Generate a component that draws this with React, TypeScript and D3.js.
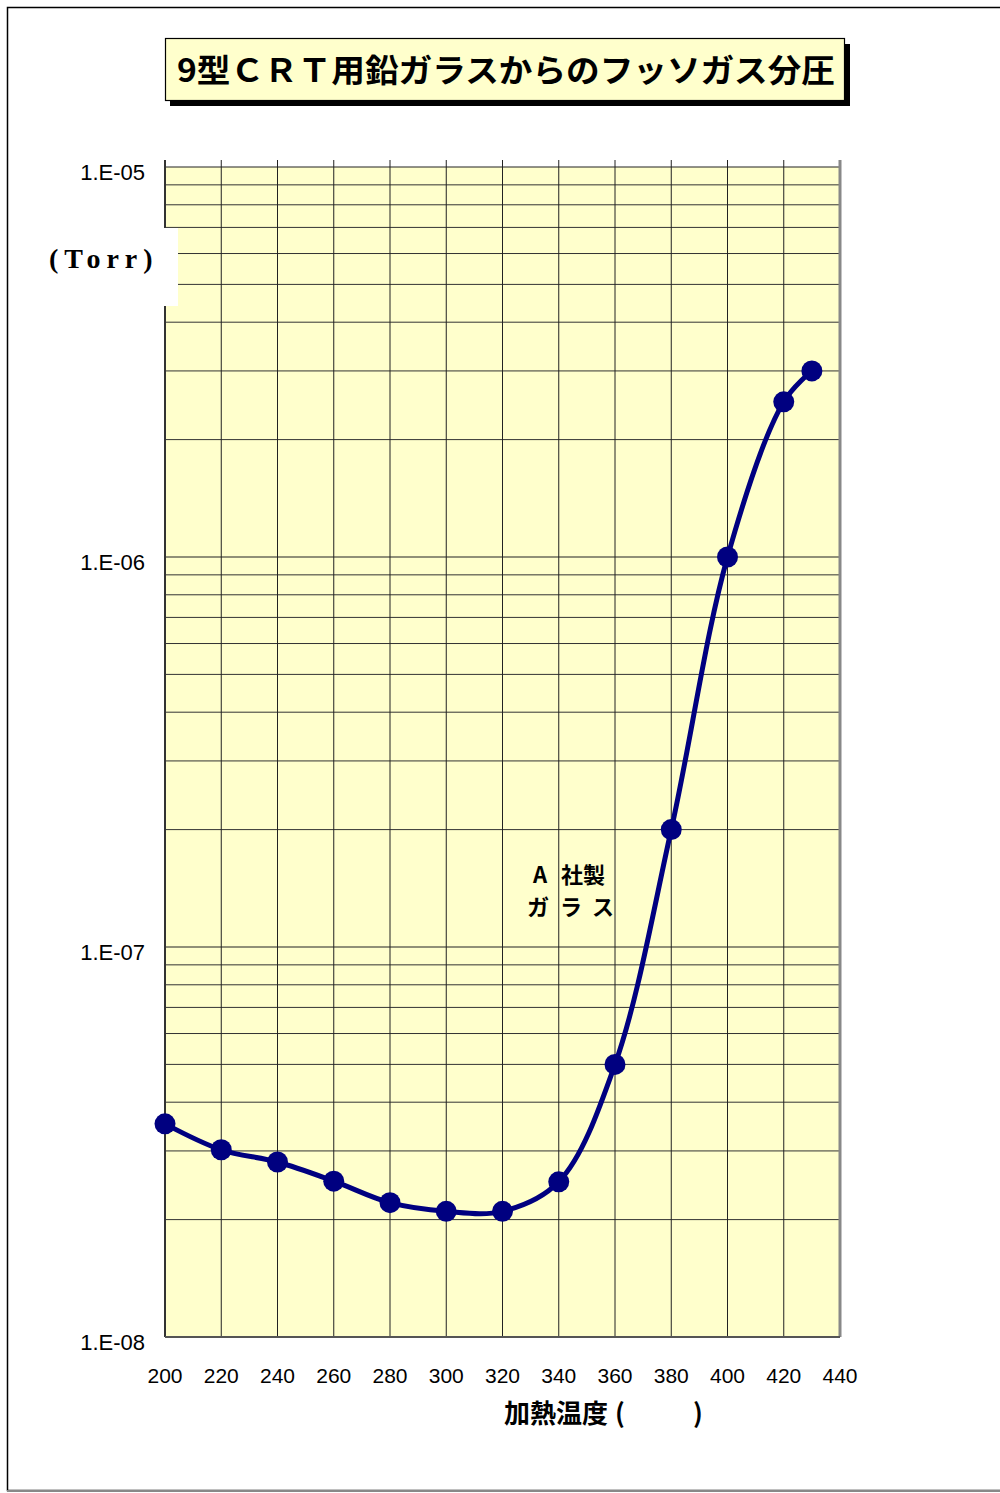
import React from "react";
import * as d3 from "d3";

const temps = [200, 220, 240, 260, 280, 300, 320, 340, 360, 380, 400, 420, 430];
const pressures = [3.52e-8, 3.02e-8, 2.81e-8, 2.51e-8, 2.21e-8, 2.1e-8, 2.1e-8, 2.5e-8, 5.0e-8, 2.0e-7, 1.0e-6, 2.5e-6, 3.0e-6];
const xTicks = [200, 220, 240, 260, 280, 300, 320, 340, 360, 380, 400, 420, 440];
const yTickValues = [1e-5, 1e-6, 1e-7, 1e-8];
const yTickLabels = ["1.E-05", "1.E-06", "1.E-07", "1.E-08"];
const titleText = "9型ＣＲＴ用鉛ガラスからのフッソガス分圧";
const unitText = "(Torr)";
const xTitle = "加熱温度";
const annotLine1 = ["A", "社製"];
const annotLine2 = ["ガ", "ラ", "ス"];

export default function App() {
  const left = 165, right = 840, top = 167, bottom = 1337;
  const x = d3.scaleLinear().domain([200, 440]).range([left, right]);
  const y = d3.scaleLog().domain([1e-8, 1e-5]).range([bottom, top]);

  const minor: number[] = [];
  for (let e = -8; e < -5; e++) {
    for (let k = 2; k <= 9; k++) minor.push(k * Math.pow(10, e));
  }

  const pts = temps.map((t, i) => [x(t), y(pressures[i])] as [number, number]);
  const line = d3.line().curve(d3.curveCatmullRom.alpha(0.5))(pts) || "";

  const sans = "'Liberation Sans', Arial, sans-serif";
  const jp = "'Noto Sans CJK JP', sans-serif";

  return (
    <svg width={1000} height={1493} style={{ position: "absolute", left: 0, top: 0, background: "#fff" }}>
      {/* outer frame */}
      <rect x={7.5} y={7.5} width={1010} height={1483} fill="#fff" stroke="#000" strokeWidth={1.5} />
      <line x1={7} y1={1491} x2={1000} y2={1491} stroke="#888" strokeWidth={2} />

      {/* plot area */}
      <rect x={left} y={top} width={right - left} height={bottom - top} fill="#FFFFCC" />
      {minor.map((v, i) => (
        <line key={"m" + i} x1={left} x2={right} y1={y(v)} y2={y(v)} stroke="#333" strokeWidth={1} />
      ))}
      {yTickValues.map((v, i) => (
        <line key={"M" + i} x1={left} x2={right} y1={y(v)} y2={y(v)} stroke="#222" strokeWidth={1.2} />
      ))}
      {xTicks.slice(1, -1).map((t) => (
        <line key={"v" + t} x1={x(t)} x2={x(t)} y1={160} y2={bottom} stroke="#222" strokeWidth={1} />
      ))}
      <line x1={right} x2={right} y1={160} y2={bottom} stroke="#888" strokeWidth={3} />
      <line x1={left} x2={left} y1={160} y2={bottom} stroke="#333" strokeWidth={2} />
      <line x1={left} x2={right} y1={bottom} y2={bottom} stroke="#555" strokeWidth={2} />

      {/* y tick labels */}
      {yTickValues.map((v, i) => (
        <text key={"yl" + i} x={145} y={y(v) + 13} textAnchor="end" fontFamily={sans} fontSize={22} fill="#000">
          {yTickLabels[i]}
        </text>
      ))}
      {/* x tick labels */}
      {xTicks.map((t) => (
        <text key={"xl" + t} x={x(t)} y={1383} textAnchor="middle" fontFamily={sans} fontSize={21} fill="#000">
          {t}
        </text>
      ))}

      {/* unit box */}
      <rect x={20} y={228} width={158} height={78} fill="#fff" />
      <text x={49} y={268} fontFamily="'Liberation Serif', 'DejaVu Serif', serif" fontWeight="bold" fontSize={28} letterSpacing={6} fill="#000">
        {unitText}
      </text>

      {/* curve */}
      <path d={line} fill="none" stroke="#000080" strokeWidth={5} strokeLinejoin="round" />
      {pts.map((p, i) => (
        <circle key={"c" + i} cx={p[0]} cy={p[1]} r={10.5} fill="#000080" />
      ))}

      {/* annotation */}
      <text x={533} y={883} fontFamily={jp} fontWeight="bold" fontSize={22} fill="#000">{annotLine1[0]}</text>
      <text x={561} y={883} fontFamily={jp} fontWeight="bold" fontSize={22} fill="#000">{annotLine1[1]}</text>
      <text x={527} y={915} fontFamily={jp} fontWeight="bold" fontSize={22} fill="#000">{annotLine2[0]}</text>
      <text x={560} y={915} fontFamily={jp} fontWeight="bold" fontSize={22} fill="#000">{annotLine2[1]}</text>
      <text x={592} y={915} fontFamily={jp} fontWeight="bold" fontSize={22} fill="#000">{annotLine2[2]}</text>

      {/* x title */}
      <text x={504} y={1423} fontFamily={jp} fontWeight="bold" fontSize={26} fill="#000">{xTitle}</text>
      <text x={615} y={1423} fontFamily={jp} fontWeight="bold" fontSize={26} fill="#000">(</text>
      <text x={693} y={1423} fontFamily={jp} fontWeight="bold" fontSize={26} fill="#000">)</text>

      {/* title box */}
      <rect x={170} y={44} width={680} height={62} fill="#000" />
      <rect x={165.5} y={38.5} width={679} height={62} fill="#FFFFCC" stroke="#000" strokeWidth={1.2} />
      <text x={177} y={82} fontFamily={jp} fontWeight="bold" fontSize={32} textLength={658} lengthAdjust="spacingAndGlyphs" fill="#000">
        {titleText}
      </text>
    </svg>
  );
}
